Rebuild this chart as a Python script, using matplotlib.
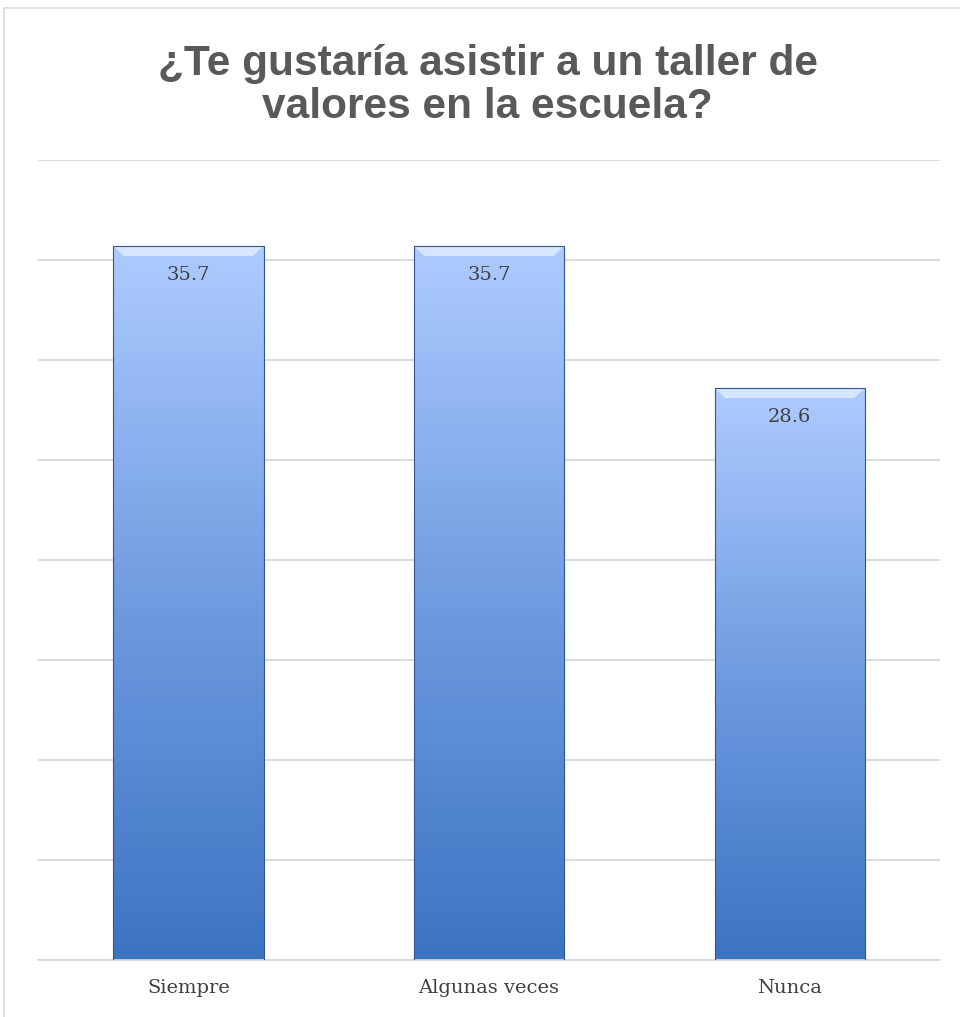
import numpy as np
import matplotlib.pyplot as plt
from matplotlib.colors import LinearSegmentedColormap

categories = ['Siempre', 'Algunas veces', 'Nunca']
values = [35.7, 35.7, 28.6]
title = '¿Te gustaría asistir a un taller de\nvalores en la escuela?'

TOP_COLOR = '#AECBFF'
BOTTOM_COLOR = '#3C74C2'
GRID = '#D9D9D9'

fig = plt.figure(figsize=(9.6, 10.17), dpi=100)
ax = fig.add_axes([0.0396, 0.056, 0.9396, 0.7867])

# outer chart border
fig.patches.append(plt.Rectangle((0.004, -0.01), 1.2, 1.002, transform=fig.transFigure,
                                 fill=False, edgecolor='#D9D9D9', linewidth=1.2))

x = np.arange(len(categories))
bars = ax.bar(x, values, width=0.5, facecolor='none', edgecolor='#2F5597',
              linewidth=0.8, zorder=3)

cmap = LinearSegmentedColormap.from_list('bar', [BOTTOM_COLOR, '#6F9BE0', TOP_COLOR])
grad = np.linspace(0, 1, 256).reshape(-1, 1)
for b, v in zip(bars, values):
    x0 = b.get_x()
    w = b.get_width()
    im = ax.imshow(grad, cmap=cmap, origin='lower', aspect='auto',
                   extent=[x0, x0 + w, 0, v], zorder=2)
    im.set_clip_path(b)
    # bevel highlight along the top edge
    ax.fill([x0, x0 + w, x0 + w * 0.93, x0 + w * 0.07],
            [v, v, v - 0.5, v - 0.5], color='#D6E6FF', zorder=2.5, linewidth=0)
    ax.text(x0 + w / 2, v - 1.45, f'{v:.1f}', ha='center', va='center',
            fontsize=14, color='#404040', family='DejaVu Serif', zorder=4)

ax.set_xlim(-0.5, len(categories) - 0.5)
ax.set_ylim(0, 40)
ax.set_yticks(np.arange(0, 41, 5))
ax.yaxis.grid(True, color=GRID, linewidth=1.3, zorder=0)
ax.set_axisbelow(True)
ax.tick_params(axis='y', length=0, labelleft=False)
ax.tick_params(axis='x', length=0, pad=14)
ax.set_xticks(x)
ax.set_xticklabels(categories, fontsize=14, color='#404040', family='DejaVu Serif')
for side in ['top', 'right', 'left']:
    ax.spines[side].set_visible(False)
ax.spines['bottom'].set_color(GRID)
ax.spines['bottom'].set_linewidth(1.3)

fig.text(0.508, 0.916, title, ha='center', va='center', fontsize=30.5,
         fontweight='bold', color='#595959', family='Liberation Sans',
         linespacing=1.08)

fig.savefig('out.png', dpi=100, facecolor='white')
